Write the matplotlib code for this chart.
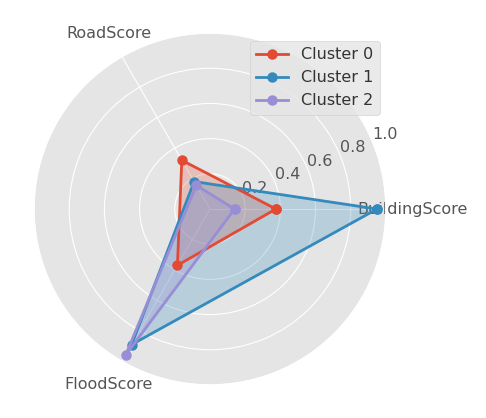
import numpy as np
import matplotlib
matplotlib.use("Agg")
import matplotlib.pyplot as plt

plt.style.use("ggplot")

# scores per cluster
categories = ["BuildingScore", "RoadScore", "FloodScore"]
cluster_names = ["Cluster 0", "Cluster 1", "Cluster 2"]
cluster0 = [0.375, 0.32, 0.37]
cluster1 = [0.95, 0.18, 0.89]
cluster2 = [0.14, 0.155, 0.96]
rticks = [0.2, 0.4, 0.6, 0.8, 1.0]

angles = np.linspace(0, 2 * np.pi, len(categories), endpoint=False).tolist()
angles += angles[:1]

fig = plt.figure(figsize=(4.86, 4.18), dpi=100)
ax = fig.add_axes([0.07, 0.079, 0.724, 0.842], polar=True)

for name, vals in zip(cluster_names, [cluster0, cluster1, cluster2]):
    v = vals + vals[:1]
    line, = ax.plot(angles, v, "o-", linewidth=2, markersize=6.5, label=name)
    ax.fill(angles, v, alpha=0.25, color=line.get_color())

ax.set_thetagrids(np.degrees(angles[:-1]), categories, fontsize=11.5)
ax.tick_params(axis="x", pad=9)
ax.set_ylim(0, 1.0)
ax.set_yticks(rticks)
ax.set_yticklabels(["0.2", "0.4", "0.6", "0.8", "1.0"], fontsize=11.5)
ax.grid(True, color="white")

leg = ax.legend(loc="upper right", bbox_to_anchor=(1.005, 1.0), fontsize=11.5)
for t in leg.get_texts():
    t.set_color("#333333")

fig.savefig("out.png", dpi=100)
